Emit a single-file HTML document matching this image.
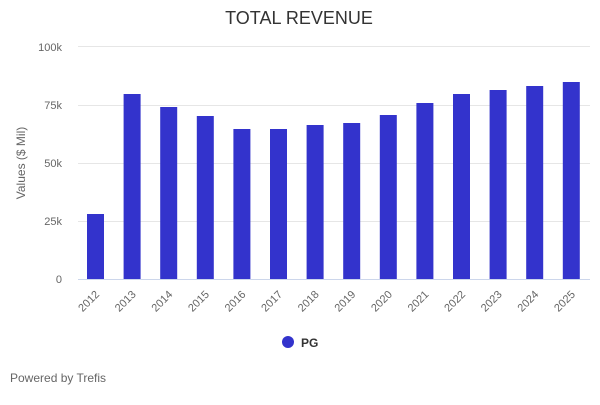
<!DOCTYPE html><html><head><style>body{margin:0;background:#fff}</style></head><body>
<svg width="600" height="400" xmlns="http://www.w3.org/2000/svg" font-family="Liberation Sans, sans-serif">
<text x="299" y="24" text-anchor="middle" font-size="18" fill="#333">TOTAL REVENUE</text>
<g stroke="#e6e6e6" stroke-width="1">
<line x1="78" x2="590" y1="46.5" y2="46.5"/><line x1="78" x2="590" y1="105.5" y2="105.5"/><line x1="78" x2="590" y1="163.5" y2="163.5"/><line x1="78" x2="590" y1="221.5" y2="221.5"/></g>
<line x1="78" x2="590" y1="279.5" y2="279.5" stroke="#ccd6eb"/>
<g font-size="11" fill="#666" text-anchor="end">
<text x="62" y="51">100k</text><text x="62" y="109">75k</text><text x="62" y="167">50k</text><text x="62" y="225">25k</text><text x="62" y="283">0</text></g>
<text transform="translate(25,163) rotate(-90)" text-anchor="middle" font-size="12" fill="#666">Values ($ Mil)</text>
<g fill="#3333cc" id="b"></g>
<g font-size="11" fill="#666" text-anchor="end" id="l"></g>
<circle cx="288" cy="342" r="6" fill="#3333cc"/>
<text x="301" y="347" font-size="12" font-weight="bold" fill="#333">PG</text>
<text x="10" y="382" font-size="12" fill="#666">Powered by Trefis</text>
<script>
var tops=[214,94,107,116,129,129,125,123,115,103,94,90,86,82];
var b=document.getElementById('b'),l=document.getElementById('l'),ns='http://www.w3.org/2000/svg';
tops.forEach(function(t,i){var x=87+i*36.6;var r=document.createElementNS(ns,'rect');r.setAttribute('x',x);r.setAttribute('y',t);r.setAttribute('width',17);r.setAttribute('height',279-t);b.appendChild(r);
var tx=document.createElementNS(ns,'text');var cx=x+13,cy=295;tx.setAttribute('x',cx);tx.setAttribute('y',cy);tx.setAttribute('transform','rotate(-45 '+cx+' '+cy+')');tx.textContent=2012+i;l.appendChild(tx);});
</script>
</svg></body></html>
